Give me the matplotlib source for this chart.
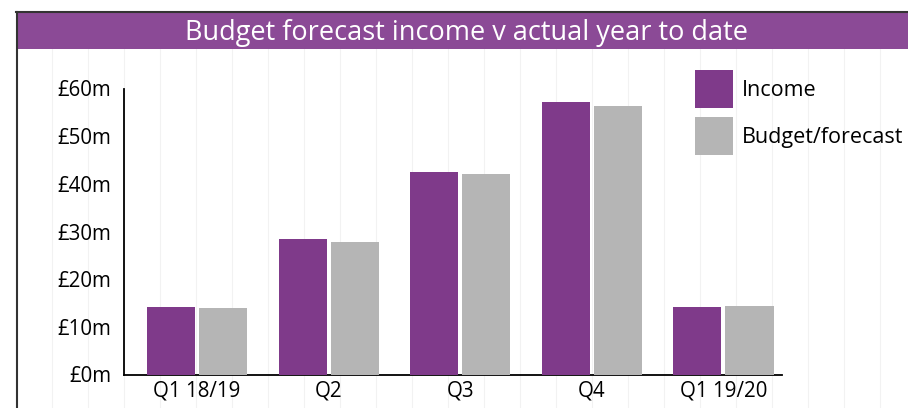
import matplotlib
matplotlib.use("Agg")
import matplotlib.pyplot as plt
from matplotlib.lines import Line2D
from matplotlib.patches import Rectangle
import numpy as np

plt.rcParams['font.family'] = ['Open Sans', 'DejaVu Sans']

categories = ["Q1 18/19", "Q2", "Q3", "Q4", "Q1 19/20"]
income = [14.2, 28.4, 42.5, 57.2, 14.2]
budget = [14.0, 27.8, 42.1, 56.3, 14.4]
yticks = [0, 10, 20, 30, 40, 50, 60]
ytick_labels = ["£0m", "£10m", "£20m", "£30m", "£40m", "£50m", "£60m"]
title = "Budget forecast income v actual year to date"

PURPLE = "#7F3A8A"
GREY = "#B5B5B5"
BAND = "#8B4A96"

W, H = 908, 408
fig = plt.figure(figsize=(W / 100, H / 100), dpi=100)
fig.patch.set_facecolor("white")

# faint vertical background grid
for xp in range(16, W, 36):
    fig.add_artist(Line2D([xp / W, xp / W], [0, 1 - 49 / H], color="#f2f2f2",
                          lw=0.8, transform=fig.transFigure, zorder=0))

# title band
fig.add_artist(Rectangle((16 / W, 1 - 49 / H), 1 - 16 / W, 37 / H, transform=fig.transFigure,
                         facecolor=BAND, edgecolor="none", zorder=1))
fig.add_artist(Line2D([16 / W, 1], [1 - 12 / H, 1 - 12 / H], color="#333333", lw=1.5,
                      transform=fig.transFigure, zorder=2))
fig.add_artist(Line2D([16.5 / W, 16.5 / W], [0, 1 - 12 / H], color="#333333", lw=1.5,
                      transform=fig.transFigure, zorder=2))
fig.text(467 / W, 1 - 33 / H, title, color="white", fontsize=19.5, ha="center", va="center")

ax = fig.add_axes([124 / W, 1 - 374.5 / H, (782 - 124) / W, (374.5 - 88.5) / H])
ax.patch.set_alpha(0)
x = np.arange(len(categories))
bw = 0.365
off = 0.198
b1 = ax.bar(x - off, income, bw, color=PURPLE, label="Income", zorder=3)
b2 = ax.bar(x + off, budget, bw, color=GREY, label="Budget/forecast", zorder=3)

ax.set_xlim(-0.555, len(categories) - 0.555)
ax.set_ylim(0, 60)
ax.set_yticks(yticks)
ax.set_yticklabels(ytick_labels)
ax.set_xticks(x)
ax.set_xticklabels(categories)
ax.tick_params(axis="both", length=0, labelsize=14.8, colors="black")
ax.tick_params(axis="y", pad=9)
ax.tick_params(axis="x", pad=4)
for s in ["top", "right"]:
    ax.spines[s].set_visible(False)
for s in ["left", "bottom"]:
    ax.spines[s].set_color("black")
    ax.spines[s].set_linewidth(1.3)

leg = ax.legend(handles=[b1, b2], loc="upper left", bbox_to_anchor=((695 - 124) / (782 - 124), 1 + 18.5 / 286),
                frameon=False, fontsize=15.5, handlelength=1.77, handleheight=2.34,
                handletextpad=0.4, labelspacing=0.42, borderaxespad=0, borderpad=0)
for t in leg.get_texts():
    t.set_clip_on(False)

fig.savefig("out.png", dpi=100)
